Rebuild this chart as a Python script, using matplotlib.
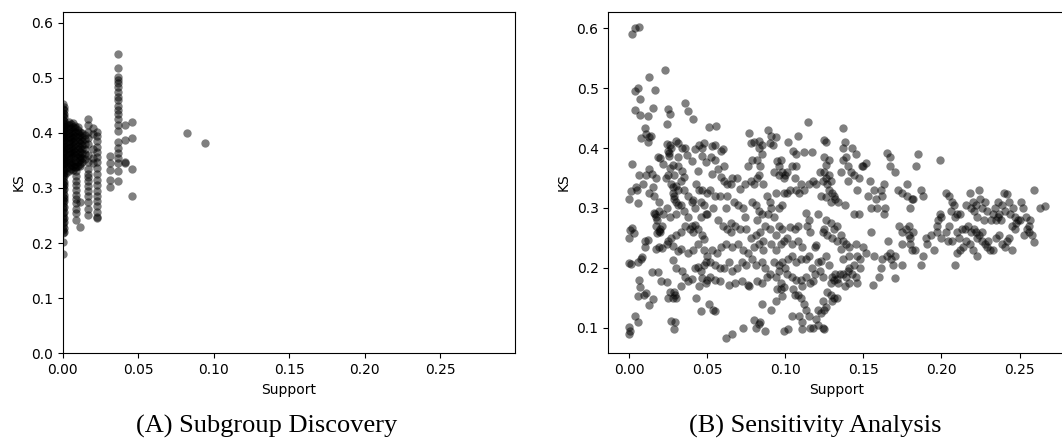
import matplotlib
matplotlib.use("Agg")
import matplotlib.pyplot as plt
import numpy as np

# ---------------------------------------------------------------------------
# (A) Subgroup Discovery: support values are discrete, so points stack in columns
# ---------------------------------------------------------------------------
ks_a_col_000 = [0.180, 0.202, 0.218, 0.224, 0.231, 0.236, 0.243, 0.249, 0.254, 0.262,
                0.268, 0.273, 0.279, 0.284, 0.291, 0.296, 0.302, 0.307, 0.313, 0.318,
                0.324, 0.329, 0.335, 0.341, 0.346, 0.352, 0.357, 0.363, 0.368, 0.374,
                0.379, 0.385, 0.391, 0.396, 0.402, 0.407, 0.413, 0.418, 0.424, 0.431,
                0.437, 0.444, 0.452]
ks_a_col_001 = [0.221, 0.228, 0.239, 0.246, 0.257, 0.265, 0.276, 0.282, 0.288, 0.299,
                0.305, 0.311, 0.321, 0.327, 0.333, 0.344, 0.349, 0.355, 0.366, 0.371,
                0.377, 0.388, 0.393, 0.399, 0.405, 0.410, 0.416, 0.421, 0.428, 0.434,
                0.441, 0.447]
ks_a_block = {
    0.0025: [0.328, 0.336, 0.343, 0.349, 0.357, 0.362, 0.370, 0.376, 0.383, 0.391,
             0.398, 0.404, 0.411, 0.417],
    0.0040: [0.331, 0.339, 0.346, 0.352, 0.359, 0.366, 0.373, 0.379, 0.386, 0.393,
             0.400, 0.407, 0.414, 0.420],
    0.0055: [0.334, 0.341, 0.347, 0.355, 0.361, 0.368, 0.374, 0.382, 0.389, 0.395,
             0.402, 0.409, 0.416],
    0.0070: [0.333, 0.340, 0.348, 0.356, 0.363, 0.369, 0.377, 0.384, 0.390, 0.397,
             0.404, 0.411, 0.418],
    0.0085: [0.338, 0.344, 0.351, 0.359, 0.366, 0.372, 0.380, 0.387, 0.394, 0.401,
             0.408, 0.413],
    0.0100: [0.340, 0.348, 0.356, 0.362, 0.370, 0.377, 0.385, 0.392, 0.399, 0.406,
             0.410],
    0.0115: [0.343, 0.351, 0.358, 0.366, 0.373, 0.381, 0.388, 0.396, 0.402],
    0.0130: [0.347, 0.355, 0.363, 0.370, 0.378, 0.386, 0.393, 0.400],
    0.0145: [0.352, 0.362, 0.371, 0.380, 0.389, 0.397],
}
ks_a_col_009 = [0.338, 0.330, 0.322, 0.313, 0.305, 0.297, 0.288, 0.280, 0.272, 0.262,
                0.255, 0.242]
ks_a_col_0115 = [0.230, 0.275, 0.340, 0.355]
ks_a_col_0165 = [0.426, 0.414, 0.402, 0.390, 0.380, 0.360, 0.348, 0.335, 0.326, 0.320,
                 0.312, 0.303, 0.295, 0.285, 0.275, 0.262, 0.251]
ks_a_col_020 = [0.408, 0.398, 0.370, 0.355, 0.345]
ks_a_col_0225 = [0.402, 0.394, 0.385, 0.375, 0.366, 0.356, 0.347, 0.336, 0.325, 0.315,
                 0.305, 0.295, 0.285, 0.276, 0.268, 0.256, 0.248, 0.245]
ks_a_col_0315 = [0.358, 0.346, 0.332, 0.315, 0.301]
ks_a_col_0365 = [0.543, 0.517, 0.502, 0.496, 0.490, 0.483, 0.475, 0.466, 0.460, 0.449,
                 0.442, 0.434, 0.426, 0.414, 0.403, 0.384, 0.372, 0.363, 0.354, 0.346,
                 0.330, 0.312]
ks_a_col_041 = [0.414, 0.388, 0.348, 0.345]
ks_a_col_046 = [0.420, 0.390, 0.334, 0.286]
support_a_outliers = [0.0825, 0.0945]
ks_a_outliers = [0.400, 0.381]

# ---------------------------------------------------------------------------
# (B) Sensitivity Analysis: (support, KS) pairs, grouped by support range
# ---------------------------------------------------------------------------
b_support_000_021 = [
    (0.002, 0.590), (0.004, 0.600), (0.0065, 0.602),
    (0.006, 0.501), (0.004, 0.495), (0.007, 0.482), (0.013, 0.518), (0.0165, 0.497),
    (0.004, 0.463), (0.007, 0.455), (0.012, 0.453), (0.0155, 0.467),
    (0.010, 0.433), (0.011, 0.424), (0.0075, 0.417), (0.0125, 0.419), (0.014, 0.421),
    (0.012, 0.410), (0.002, 0.373), (0.0185, 0.385), (0.020, 0.383),
    (0.0065, 0.355), (0.0125, 0.365), (0.011, 0.355), (0.0145, 0.357), (0.017, 0.350),
    (0.009, 0.340), (0.0045, 0.335), (0.005, 0.330), (0.001, 0.328), (0.0002, 0.315),
    (0.006, 0.308), (0.0155, 0.335), (0.016, 0.320), (0.0125, 0.325), (0.019, 0.310),
    (0.016, 0.292), (0.017, 0.285), (0.018, 0.280), (0.0175, 0.270), (0.019, 0.262),
    (0.018, 0.258), (0.020, 0.265), (0.021, 0.270), (0.0165, 0.290), (0.019, 0.295),
    (0.0195, 0.259), (0.0005, 0.263), (0.002, 0.267), (0.003, 0.258), (0.000, 0.250),
    (0.012, 0.247), (0.0105, 0.235), (0.0105, 0.245), (0.017, 0.232), (0.019, 0.235),
    (0.021, 0.233), (0.0075, 0.215), (0.008, 0.218), (0.006, 0.210), (0.000, 0.208),
    (0.001, 0.207), (0.0145, 0.193), (0.0185, 0.193), (0.0205, 0.178),
    (0.0065, 0.179), (0.007, 0.167), (0.0055, 0.152), (0.0095, 0.155), (0.013, 0.138),
    (0.0155, 0.148), (0.011, 0.158), (0.004, 0.119), (0.006, 0.109), (0.0002, 0.101),
    (0.0003, 0.095), (0.000, 0.090),
]
b_support_021_050 = [
    (0.023, 0.530), (0.025, 0.465), (0.0265, 0.457), (0.024, 0.441),
    (0.036, 0.476), (0.0375, 0.462), (0.041, 0.449),
    (0.024, 0.407), (0.026, 0.405), (0.025, 0.395), (0.0255, 0.392), (0.030, 0.412),
    (0.031, 0.409), (0.034, 0.400), (0.036, 0.400), (0.027, 0.400),
    (0.042, 0.399), (0.048, 0.408), (0.045, 0.405), (0.0465, 0.400),
    (0.0255, 0.387), (0.031, 0.385), (0.037, 0.388), (0.022, 0.373), (0.028, 0.372),
    (0.047, 0.387), (0.049, 0.376), (0.040, 0.378),
    (0.0265, 0.367), (0.031, 0.370), (0.034, 0.362), (0.029, 0.355),
    (0.044, 0.361), (0.035, 0.352),
    (0.027, 0.340), (0.028, 0.335), (0.030, 0.337), (0.0285, 0.320), (0.029, 0.315),
    (0.030, 0.310), (0.031, 0.305), (0.033, 0.305), (0.028, 0.325), (0.0315, 0.330),
    (0.033, 0.345), (0.025, 0.355), (0.0235, 0.350),
    (0.035, 0.330), (0.038, 0.320), (0.040, 0.310), (0.041, 0.314), (0.042, 0.300),
    (0.046, 0.310), (0.048, 0.305), (0.045, 0.330), (0.043, 0.340), (0.047, 0.330),
    (0.050, 0.325), (0.046, 0.285), (0.049, 0.290),
    (0.024, 0.300), (0.022, 0.290), (0.026, 0.285), (0.030, 0.290), (0.035, 0.295),
    (0.038, 0.285),
    (0.025, 0.245), (0.024, 0.240), (0.027, 0.250), (0.030, 0.255), (0.033, 0.260),
    (0.036, 0.270), (0.039, 0.265), (0.040, 0.270), (0.042, 0.272), (0.044, 0.265),
    (0.047, 0.255), (0.048, 0.248), (0.041, 0.260),
    (0.028, 0.236), (0.031, 0.228), (0.033, 0.232), (0.038, 0.225), (0.041, 0.230),
    (0.044, 0.240), (0.048, 0.230), (0.050, 0.220),
    (0.028, 0.213), (0.030, 0.200), (0.034, 0.195), (0.036, 0.185), (0.038, 0.178),
    (0.040, 0.182), (0.042, 0.200), (0.044, 0.202), (0.046, 0.195), (0.048, 0.205),
    (0.049, 0.210), (0.047, 0.183), (0.049, 0.175), (0.050, 0.180), (0.045, 0.170),
    (0.024, 0.177), (0.026, 0.160), (0.029, 0.160), (0.0295, 0.155), (0.033, 0.170),
    (0.028, 0.149), (0.025, 0.150), (0.030, 0.150),
    (0.043, 0.150), (0.046, 0.127), (0.0295, 0.110), (0.0285, 0.097), (0.027, 0.111),
]
b_support_050_100 = [
    (0.051, 0.436), (0.0555, 0.437),
    (0.053, 0.404), (0.055, 0.405), (0.060, 0.398), (0.059, 0.395),
    (0.0525, 0.385), (0.055, 0.380), (0.061, 0.370), (0.057, 0.365),
    (0.053, 0.357), (0.059, 0.352), (0.061, 0.345), (0.063, 0.340), (0.066, 0.350),
    (0.065, 0.340), (0.069, 0.350), (0.074, 0.340), (0.071, 0.332),
    (0.077, 0.425), (0.080, 0.410), (0.078, 0.408), (0.083, 0.412), (0.085, 0.405),
    (0.083, 0.400), (0.089, 0.431), (0.091, 0.420), (0.094, 0.418), (0.090, 0.408),
    (0.092, 0.405), (0.085, 0.390), (0.082, 0.380), (0.079, 0.380), (0.076, 0.370),
    (0.084, 0.370), (0.083, 0.355), (0.082, 0.350), (0.078, 0.345), (0.080, 0.340),
    (0.086, 0.340), (0.095, 0.378), (0.097, 0.380), (0.096, 0.370), (0.093, 0.360),
    (0.096, 0.355), (0.098, 0.360), (0.099, 0.350),
    (0.052, 0.330), (0.055, 0.320), (0.058, 0.320), (0.063, 0.320), (0.062, 0.300),
    (0.067, 0.310), (0.070, 0.305), (0.073, 0.300), (0.074, 0.285), (0.079, 0.310),
    (0.081, 0.305), (0.083, 0.295), (0.085, 0.290), (0.082, 0.280), (0.088, 0.320),
    (0.090, 0.310), (0.091, 0.300), (0.089, 0.290), (0.093, 0.285), (0.096, 0.300),
    (0.098, 0.305), (0.094, 0.325), (0.099, 0.325),
    (0.054, 0.300), (0.050, 0.290), (0.057, 0.280), (0.060, 0.270), (0.065, 0.275),
    (0.063, 0.265), (0.068, 0.270), (0.071, 0.265), (0.065, 0.260), (0.075, 0.265),
    (0.078, 0.250), (0.081, 0.255), (0.084, 0.260), (0.087, 0.270), (0.090, 0.265),
    (0.096, 0.270), (0.098, 0.265), (0.094, 0.255), (0.086, 0.245),
    (0.053, 0.230), (0.056, 0.225), (0.059, 0.235), (0.062, 0.240), (0.066, 0.235),
    (0.070, 0.240), (0.073, 0.230), (0.076, 0.225), (0.080, 0.235), (0.083, 0.240),
    (0.086, 0.230), (0.091, 0.240), (0.094, 0.230), (0.097, 0.240), (0.099, 0.245),
    (0.052, 0.210), (0.055, 0.205), (0.058, 0.200), (0.061, 0.200), (0.064, 0.210),
    (0.066, 0.195), (0.069, 0.200), (0.072, 0.210), (0.075, 0.205), (0.079, 0.215),
    (0.081, 0.205), (0.085, 0.210), (0.087, 0.200), (0.090, 0.190), (0.093, 0.210),
    (0.096, 0.205), (0.098, 0.210), (0.096, 0.195),
    (0.052, 0.185), (0.055, 0.180), (0.058, 0.178), (0.064, 0.172), (0.068, 0.175),
    (0.072, 0.178), (0.076, 0.172), (0.077, 0.170), (0.082, 0.178), (0.085, 0.175),
    (0.088, 0.185), (0.094, 0.185), (0.097, 0.175), (0.099, 0.168), (0.095, 0.165),
    (0.051, 0.140), (0.0535, 0.130), (0.055, 0.128), (0.062, 0.083), (0.066, 0.090),
    (0.073, 0.099), (0.080, 0.113), (0.081, 0.100), (0.083, 0.106), (0.084, 0.110),
    (0.087, 0.095), (0.085, 0.140), (0.091, 0.130), (0.094, 0.145), (0.098, 0.152),
    (0.099, 0.095), (0.097, 0.165),
]
b_support_100_150 = [
    (0.1145, 0.443), (0.108, 0.421),
    (0.102, 0.410), (0.105, 0.395), (0.107, 0.390), (0.112, 0.393), (0.117, 0.393),
    (0.104, 0.370), (0.107, 0.370), (0.101, 0.360), (0.100, 0.355), (0.106, 0.350),
    (0.103, 0.330), (0.101, 0.325), (0.107, 0.330), (0.109, 0.325), (0.112, 0.330),
    (0.115, 0.340), (0.118, 0.345), (0.110, 0.340),
    (0.125, 0.414), (0.126, 0.410), (0.125, 0.385), (0.128, 0.380), (0.126, 0.372),
    (0.125, 0.360), (0.128, 0.355), (0.126, 0.350), (0.124, 0.345), (0.129, 0.345),
    (0.127, 0.340), (0.122, 0.360), (0.120, 0.340),
    (0.128, 0.330), (0.130, 0.325), (0.131, 0.320), (0.132, 0.315), (0.126, 0.318),
    (0.123, 0.320), (0.129, 0.310), (0.134, 0.310),
    (0.137, 0.433), (0.138, 0.410), (0.137, 0.400), (0.139, 0.385), (0.137, 0.380),
    (0.136, 0.360), (0.140, 0.370), (0.143, 0.400), (0.145, 0.390), (0.142, 0.360),
    (0.144, 0.355), (0.147, 0.350), (0.146, 0.330), (0.149, 0.370), (0.140, 0.345),
    (0.138, 0.305), (0.144, 0.290), (0.147, 0.290),
    (0.103, 0.268), (0.106, 0.265), (0.108, 0.270), (0.101, 0.250), (0.104, 0.240),
    (0.108, 0.245), (0.111, 0.235), (0.114, 0.270), (0.116, 0.260), (0.119, 0.235),
    (0.120, 0.238), (0.113, 0.292), (0.115, 0.280), (0.121, 0.290), (0.124, 0.260),
    (0.125, 0.265), (0.126, 0.280), (0.129, 0.275), (0.131, 0.265), (0.133, 0.270),
    (0.130, 0.250), (0.127, 0.255), (0.133, 0.245),
    (0.136, 0.255), (0.137, 0.245), (0.136, 0.232), (0.139, 0.240), (0.141, 0.235),
    (0.141, 0.220), (0.145, 0.240), (0.146, 0.220), (0.148, 0.215), (0.144, 0.205),
    (0.148, 0.200), (0.137, 0.215),
    (0.102, 0.215), (0.104, 0.220), (0.107, 0.210), (0.110, 0.215), (0.113, 0.215),
    (0.115, 0.220), (0.117, 0.200), (0.121, 0.210), (0.123, 0.212), (0.126, 0.220),
    (0.128, 0.205), (0.100, 0.200),
    (0.101, 0.190), (0.104, 0.185), (0.107, 0.180), (0.110, 0.180), (0.113, 0.185),
    (0.116, 0.175), (0.118, 0.178), (0.111, 0.170), (0.105, 0.165), (0.108, 0.155),
    (0.110, 0.150), (0.119, 0.190), (0.122, 0.195), (0.124, 0.185),
    (0.130, 0.185), (0.131, 0.180), (0.132, 0.190), (0.133, 0.182), (0.129, 0.175),
    (0.134, 0.175), (0.135, 0.190),
    (0.137, 0.190), (0.139, 0.185), (0.140, 0.195), (0.141, 0.200), (0.138, 0.170),
    (0.141, 0.175), (0.145, 0.185), (0.146, 0.175), (0.143, 0.190),
    (0.127, 0.160), (0.129, 0.155), (0.131, 0.150), (0.133, 0.150), (0.130, 0.145),
    (0.124, 0.145), (0.121, 0.130), (0.123, 0.125), (0.125, 0.130), (0.126, 0.135),
    (0.120, 0.115), (0.118, 0.100), (0.121, 0.105), (0.124, 0.100), (0.125, 0.098),
    (0.115, 0.120), (0.113, 0.130), (0.112, 0.140), (0.116, 0.100), (0.111, 0.110),
    (0.109, 0.120), (0.104, 0.120), (0.102, 0.098), (0.106, 0.155), (0.111, 0.097),
]
b_support_150_200 = [
    (0.150, 0.370), (0.152, 0.375), (0.154, 0.345), (0.157, 0.330), (0.158, 0.315),
    (0.153, 0.320), (0.155, 0.300), (0.159, 0.300), (0.163, 0.340), (0.161, 0.330),
    (0.162, 0.320), (0.164, 0.300), (0.163, 0.290), (0.165, 0.392), (0.167, 0.385),
    (0.167, 0.370), (0.170, 0.360), (0.172, 0.330), (0.175, 0.325), (0.178, 0.340),
    (0.178, 0.320), (0.180, 0.300), (0.181, 0.315), (0.182, 0.315), (0.185, 0.390),
    (0.184, 0.370), (0.187, 0.330), (0.188, 0.320), (0.199, 0.380),
    (0.150, 0.235), (0.152, 0.225), (0.155, 0.260), (0.157, 0.220), (0.156, 0.172),
    (0.160, 0.185), (0.161, 0.200), (0.162, 0.215), (0.165, 0.220), (0.166, 0.245),
    (0.167, 0.225), (0.168, 0.215), (0.169, 0.205), (0.170, 0.220), (0.170, 0.183),
    (0.173, 0.270), (0.175, 0.260), (0.175, 0.240), (0.177, 0.265), (0.179, 0.270),
    (0.179, 0.255), (0.180, 0.250), (0.180, 0.240), (0.182, 0.260), (0.175, 0.205),
    (0.181, 0.230), (0.183, 0.230), (0.188, 0.220), (0.187, 0.205), (0.190, 0.250),
    (0.191, 0.240), (0.193, 0.255), (0.195, 0.230), (0.197, 0.260), (0.198, 0.280),
    (0.200, 0.285), (0.199, 0.290), (0.197, 0.270), (0.200, 0.250),
]
b_support_200_266 = [
    (0.203, 0.325), (0.205, 0.320), (0.207, 0.310), (0.208, 0.305), (0.210, 0.290),
    (0.212, 0.290), (0.205, 0.270), (0.206, 0.295), (0.209, 0.285), (0.203, 0.260),
    (0.204, 0.245), (0.207, 0.245), (0.210, 0.260), (0.211, 0.250), (0.212, 0.230),
    (0.213, 0.265), (0.215, 0.265), (0.216, 0.245), (0.218, 0.240), (0.217, 0.270),
    (0.219, 0.260), (0.209, 0.205), (0.214, 0.235), (0.210, 0.225),
    (0.216, 0.305), (0.218, 0.325), (0.219, 0.300), (0.220, 0.310), (0.221, 0.295),
    (0.222, 0.305), (0.224, 0.330), (0.225, 0.315), (0.223, 0.285), (0.226, 0.300),
    (0.228, 0.310), (0.229, 0.295), (0.227, 0.280), (0.221, 0.265), (0.222, 0.260),
    (0.224, 0.255), (0.226, 0.260), (0.223, 0.250), (0.220, 0.230), (0.223, 0.220),
    (0.226, 0.245), (0.228, 0.240), (0.229, 0.235), (0.230, 0.245), (0.231, 0.230),
    (0.232, 0.280), (0.233, 0.290), (0.234, 0.300), (0.235, 0.280), (0.236, 0.285),
    (0.237, 0.290), (0.238, 0.280), (0.236, 0.310), (0.239, 0.305), (0.240, 0.325),
    (0.242, 0.323), (0.243, 0.310), (0.241, 0.295), (0.244, 0.290), (0.246, 0.300),
    (0.247, 0.285), (0.249, 0.280), (0.245, 0.270), (0.247, 0.265), (0.248, 0.275),
    (0.250, 0.280), (0.251, 0.310), (0.252, 0.300), (0.254, 0.285), (0.255, 0.265),
    (0.256, 0.270), (0.257, 0.280), (0.253, 0.255), (0.256, 0.260), (0.258, 0.255),
    (0.259, 0.243), (0.259, 0.330), (0.263, 0.300), (0.266, 0.303), (0.237, 0.255),
    (0.239, 0.240), (0.241, 0.235), (0.243, 0.250), (0.245, 0.230), (0.233, 0.230),
    (0.235, 0.250), (0.242, 0.245),
]

caption_a = "(A) Subgroup Discovery"
caption_b = "(B) Sensitivity Analysis"

# ---------------------------------------------------------------------------
# Assemble panel A
# ---------------------------------------------------------------------------
a_columns = [(0.000, ks_a_col_000), (0.001, ks_a_col_001)]
a_columns += list(ks_a_block.items())
a_columns += [(0.009, ks_a_col_009), (0.0115, ks_a_col_0115),
              (0.0165, ks_a_col_0165), (0.020, ks_a_col_020),
              (0.0225, ks_a_col_0225), (0.0315, ks_a_col_0315),
              (0.0365, ks_a_col_0365), (0.041, ks_a_col_041),
              (0.046, ks_a_col_046)]
support_a = []
ks_a = []
for sup, vals in a_columns:
    support_a += [sup] * len(vals)
    ks_a += list(vals)
support_a += support_a_outliers
ks_a += ks_a_outliers

b_pairs = (b_support_000_021 + b_support_021_050 + b_support_050_100 +
           b_support_100_150 + b_support_150_200 + b_support_200_266)
support_b = [p[0] for p in b_pairs]
ks_b = [p[1] for p in b_pairs]

# ---------------------------------------------------------------------------
# Figure
# ---------------------------------------------------------------------------
plt.rcParams["font.family"] = ["DejaVu Sans"]
plt.rcParams["font.size"] = 10

fig = plt.figure(figsize=(10.62, 4.41), dpi=100)
ax_a = fig.add_axes([0.0590, 0.1989, 0.4259, 0.7746])
ax_b = fig.add_axes([0.5728, 0.1989, 0.4303, 0.7746])

marker_style = dict(s=36, c="black", alpha=0.5, linewidths=0)

ax_a.scatter(support_a, ks_a, **marker_style)
ax_a.set_xlim(0, 0.2995)
ax_a.set_ylim(0, 0.62)
ax_a.set_xticks([0.0, 0.05, 0.10, 0.15, 0.20, 0.25])
ax_a.set_xlabel("Support")
ax_a.set_ylabel("KS")

ax_b.scatter(support_b, ks_b, **marker_style)
ax_b.set_xlabel("Support")
ax_b.set_ylabel("KS")

caption_font = dict(family=["Liberation Serif", "DejaVu Serif"], size=19,
                    ha="center", va="center")
fig.text(267 / 1062, 0.033, caption_a, **caption_font)
fig.text(815 / 1062, 0.033, caption_b, **caption_font)

fig.savefig("out.png", dpi=100)
